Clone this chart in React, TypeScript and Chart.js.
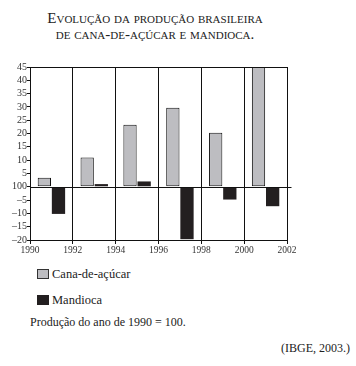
import React, { useEffect, useRef } from "react";
import { Chart, registerables } from "chart.js";

Chart.register(...registerables);

const years = [1991, 1993, 1995, 1997, 1999, 2001];
const canaValues = [3.4, 11, 23.3, 29.7, 20.3, 45];
const mandiocaValues = [-10.2, 1, 2, -19.7, -4.8, -7.3];
const xTickStart = 1990;
const xTickEnd = 2002;
const yTickLabels = ["–20", "–15", "–10", "–5", "100", "5", "10", "15", "20", "25", "30", "35", "40", "45"];
const seriesNames = ["Cana-de-açúcar", "Mandioca"];
const seriesColors = ["#bdbdc1", "#231f20"];

const framePlugin = {
  id: "frame",
  afterDatasetsDraw(chart: any) {
    const { ctx, chartArea } = chart;
    const y = chart.scales.y;
    const a = (v: number) => Math.round(v) + 0.5;
    ctx.save();
    ctx.strokeStyle = "#111";
    ctx.lineWidth = 1;
    ctx.beginPath();
    ctx.moveTo(a(chartArea.left), a(chartArea.top));
    ctx.lineTo(a(chartArea.right), a(chartArea.top));
    ctx.lineTo(a(chartArea.right), a(chartArea.bottom));
    const zy = a(y.getPixelForValue(0));
    ctx.moveTo(a(chartArea.left), zy);
    ctx.lineTo(a(chartArea.right) + 4, zy);
    ctx.stroke();
    ctx.restore();
  },
};

function ChartView() {
  const ref = useRef<HTMLCanvasElement | null>(null);
  useEffect(() => {
    if (!ref.current) return;
    const chart = new Chart(ref.current, {
      type: "bar",
      data: {
        datasets: [
          {
            label: seriesNames[0],
            data: years.map((x, i) => ({ x, y: canaValues[i] })),
            backgroundColor: seriesColors[0],
            borderColor: "#111",
            borderWidth: 1,
            borderSkipped: false,
          },
          {
            label: seriesNames[1],
            data: years.map((x, i) => ({ x, y: mandiocaValues[i] })),
            backgroundColor: seriesColors[1],
            borderColor: seriesColors[1],
            borderWidth: 0,
          },
        ],
      },
      options: {
        animation: false,
        responsive: false,
        maintainAspectRatio: false,
        categoryPercentage: 0.66,
        barPercentage: 0.94,
        layout: { padding: { top: 7, right: 13, left: 0, bottom: 0 } },
        plugins: { legend: { display: false }, tooltip: { enabled: false }, title: { display: false } },
        scales: {
          x: {
            type: "linear",
            min: xTickStart,
            max: xTickEnd,
            offset: false,
            ticks: {
              stepSize: 2,
              autoSkip: false,
              maxRotation: 0,
              padding: 1,
              color: "#333",
              font: { family: "'Liberation Serif', serif", size: 9.5 },
              callback: (v: any) => String(v),
            },
            grid: { color: "#111", lineWidth: 1, tickLength: 4, offset: false, drawOnChartArea: true, tickColor: "#111" },
            border: { display: true, color: "#111", width: 1 },
            afterFit: (s: any) => { s.height = 20; },
          },
          y: {
            type: "linear",
            min: -20,
            max: 45,
            ticks: {
              stepSize: 5,
              autoSkip: false,
              padding: 0,
              color: "#333",
              font: { family: "'Liberation Serif', serif", size: 10 },
              callback: (_v: any, i: number) => yTickLabels[i],
            },
            grid: { drawOnChartArea: false, tickLength: 3, tickColor: "#111", color: "#111" },
            border: { display: true, color: "#111", width: 1 },
            afterFit: (s: any) => { s.width = 30; },
          },
        },
      },
      plugins: [framePlugin],
    } as any);
    return () => chart.destroy();
  }, []);
  return <canvas ref={ref} width={300} height={200} style={{ width: 300, height: 200, display: "block" }} />;
}

const serif = "'Liberation Serif', 'Times New Roman', serif";

export default function App() {
  return (
    <div style={{ position: "absolute", left: 0, top: 0, width: 356, height: 366, background: "#fff", color: "#222", fontFamily: serif }}>
      <div style={{ position: "absolute", left: 0, top: 10, width: 310, textAlign: "center", fontSize: 15, lineHeight: "16px", fontVariant: "small-caps" }}>
        <div>Evolução da produção brasileira</div>
        <div>de cana-de-açúcar e mandioca.</div>
      </div>
      <div style={{ position: "absolute", left: 0, top: 60 }}>
        <ChartView />
      </div>
      {seriesNames.map((name, i) => (
        <div key={name} style={{ position: "absolute", left: 37, top: 267 + i * 26, height: 14, display: "flex", alignItems: "center", fontSize: 12.5 }}>
          <span style={{ display: "inline-block", width: i === 0 ? 10 : 12, height: i === 0 ? 8 : 10, background: seriesColors[i], border: i === 0 ? "1px solid #333" : "none", marginRight: 3 }} />
          <span>{name}</span>
        </div>
      ))}
      <div style={{ position: "absolute", left: 30, top: 315, fontSize: 12 }}>Produção do ano de 1990 = 100.</div>
      <div style={{ position: "absolute", right: 6, top: 341, fontSize: 12 }}>(IBGE, 2003.)</div>
    </div>
  );
}
